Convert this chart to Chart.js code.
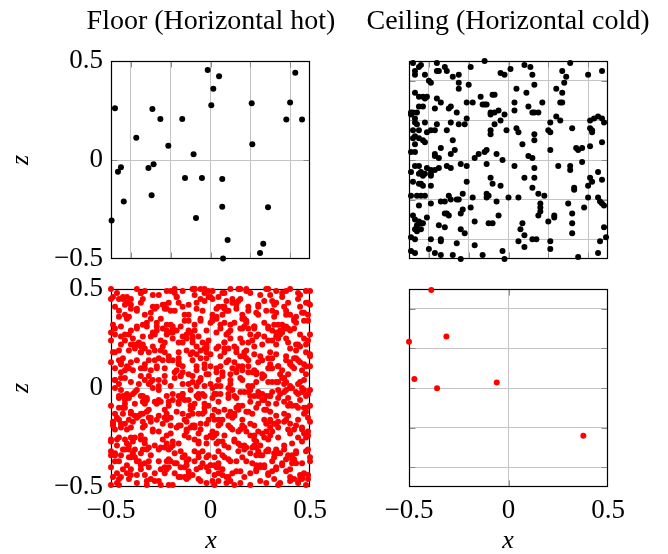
<!DOCTYPE html>
<html>
<head>
<meta charset="utf-8">
<script src="https://cdn.jsdelivr.net/npm/chart.js@4.4.1/dist/chart.umd.min.js"></script>
<style>
  body { margin: 0; background: #fff; }
  #fig { position: relative; width: 668px; height: 554px; font-family: "Liberation Serif", serif; color: #000; }
  #fig canvas { position: absolute; left: 0; top: 0; }
  .lbl { position: absolute; white-space: nowrap; font-size: 26px; line-height: 1; }
  .ttl { transform: translateX(-50%); font-size: 28px; }
  .ax { font-style: italic; transform: translate(-50%, -50%); }
  .ax.rot { transform: translate(-50%, -50%) rotate(-90deg); }
</style>
</head>
<body>
<div id="fig">
  <canvas id="c0" width="668" height="554"></canvas>
  <canvas id="c1" width="668" height="554"></canvas>
  <canvas id="c2" width="668" height="554"></canvas>
  <canvas id="c3" width="668" height="554"></canvas>
  <div class="lbl ttl" style="left:211px; top:6px;">Floor (Horizontal hot)</div>
  <div class="lbl ttl" style="left:508px; top:6px;">Ceiling (Horizontal cold)</div>
  <div class="lbl ax rot" style="left:20px; top:160px;">z</div>
  <div class="lbl ax rot" style="left:20px; top:388px;">z</div>
  <div class="lbl ax" style="left:211px; top:540px;">x</div>
  <div class="lbl ax" style="left:508px; top:540px;">x</div>
</div>
<script>
// --- DATA ---
// tick values shared by every panel; only some are labelled
const tickVals = [-0.5, -0.4, -0.2, 0, 0.2, 0.4, 0.5];
const labelVals = [-0.5, 0, 0.5];
const fineGrid = [-0.4, -0.2, 0, 0.2, 0.4];
const zeroGrid = [0];

// floor, black markers (x, z)
const floorBlackX = [-0.014, 0.043, 0.426, 0.014, -0.480, -0.292, 0.004, 0.207, 0.400, -0.252, -0.142, 0.381,
  0.460, -0.373, -0.212, 0.210, -0.085, -0.450, -0.465, -0.286, -0.312, -0.128, -0.043, 0.059, -0.296, -0.436,
  0.059, 0.289, -0.073, -0.497, 0.086, 0.265, 0.249, 0.063];
const floorBlackZ = [0.455, 0.423, 0.441, 0.360, 0.261, 0.258, 0.276, 0.286, 0.290, 0.207, 0.207, 0.205,
  0.205, 0.113, 0.072, 0.079, 0.029, -0.037, -0.059, -0.022, -0.040, -0.091, -0.091, -0.096, -0.178, -0.209,
  -0.236, -0.239, -0.293, -0.306, -0.404, -0.423, -0.470, -0.498];

// ceiling, red markers (x, z)
const ceilingRedX = [-0.388, -0.312, -0.500, -0.473, -0.359, -0.059, 0.376];
const ceilingRedZ = [0.495, 0.260, 0.234, 0.046, -0.001, 0.028, -0.241];

// ceiling, black markers: x,z pairs in hundredths
const ceilingBlack = [
  -48,49, -44,48, -45,47, -47,45, -47,43, -42,43, -36,49, -36,45, -35,45, -32,47, -31,45, -28,42, -25,43, -19,47,
  -12,50, -4,44, -2,43, 1,46, 8,48, 11,47, 12,43, 27,45, 29,42, 31,49, 40,43, 47,45, -40,40, -39,39,
  -25,39, -25,36, -20,38, -47,34, -45,32, -43,32, -41,32, -42,31, -36,31, -34,29, -37,26, -30,26, -29,27, -26,24,
  -21,29, -18,29, -14,32, -12,28, -13,28, -11,28, -8,33, -7,33, -9,24, -7,24, -5,25, 4,36, 3,29, 9,34, 13,38,
  10,27, 12,24, 13,24, 15,24, 17,29, 24,36, 27,34, 26,29, 27,29, 28,39, 24,22, 26,20, 21,19, -49,24, -48,24,
  -49,23, -45,27, -46,24, -43,27, 3,25, -2,23, -4,20, -9,23,
  -47,21, -47,19, -46,18, -42,19, -45,15, -48,15, -48,11, -47,12, -45,11, -43,10, -42,9, -47,8, -47,4, -49,4,
  -41,14, -39,15, -37,15, -36,18, -31,15, -29,19, -25,18, -22,18, -21,21, -28,10, -27,5, -29,3, -34,6, -37,3,
  -37,2, -35,1, -9,15, -9,13, -7,18, -1,15, 4,16, 5,14, 7,8, 13,13, 13,10, 10,2, 12,1, 20,15, 21,14, 21,5,
  32,16, 34,6, 37,6, 35,5, 37,-1, 41,20, 43,21, 45,22, 47,21, 48,19, 41,16, 42,15, 42,14, 47,9, 41,7, -15,3,
  -17,1, -11,5, -12,4, -6,3, -3,0,
  -47,-3, -45,-3, -45,-7, -44,-6, -42,-7, -43,-8, -41,-4, -39,-5, -39,-7, -39,-8, -37,-5, -35,-4, -44,-12,
  -43,-13, -45,-12, -48,-11, -49,-6, -39,-13, -31,-3, -29,-4, -24,-2, -21,-3, -21,-11, -11,-2, -9,-9, -8,-12,
  -4,-13, 3,-3, 8,-9, 13,-4, 13,-9, 12,-14, 25,-3, 31,-3, 31,-5, 41,-9, 42,-11, 40,-13, 45,-6, 47,-10, 33,-14,
  -49,-18, -46,-18, -44,-18, -42,-18,
  -45,-23, -39,-22, -34,-21, -32,-21, -30,-18, -29,-20, -26,-20, -25,-20, -23,-17, -18,-19, -11,-17, -10,-18,
  -11,-19, -6,-21, 0,-19, 5,-19, 15,-17, 18,-18, 16,-22, 16,-24, 16,-26, 15,-28, 20,-31, 23,-28, 23,-29, 30,-22,
  32,-27, 32,-32, 33,-15, 38,-24, 40,-19, 45,-19, 46,-21, 47,-22, 48,-23, -19,-24, -24,-27, -23,-25, -31,-27,
  -30,-28, -32,-27, -48,-28, -47,-30, -45,-31, -44,-32, -43,-32, -47,-35, -46,-36, -44,-35, -46,-33, -41,-29,
  -35,-33, -32,-34, -24,-35, -22,-37, -17,-31, -10,-32, -8,-32, -5,-28, 7,-32, 6,-35, 8,-38, 32,-37, 48,-34,
  49,-39, 46,-41,
  -49,-39, -47,-40, -39,-40, -34,-40, -34,-41, -26,-42, -17,-43, 5,-41, 8,-44, 12,-40, 14,-40, 21,-41, -49,-46,
  -47,-47, -40,-45, -37,-47, -34,-48, -28,-48, -24,-50, -13,-48, -3,-46, -2,-50, 21,-45, 35,-49, 45,-47
];

// floor, red markers: x,z pairs in hundredths (one strip per line, top to bottom, then a second sweep)
const floorRed = [
  -50,50, -49,46, -47,48, -44,46, -42,46, -37,50, -35,48, -33,49, -29,47, -26,47, -22,49, -20,49, -18,48, -18,50,
  -17,46, -14,49, -9,50, -8,50, -8,47, -5,50, -3,50, -1,49, -1,46, 0,46, 1,49, 4,46, 6,48, 10,50, 14,50, 15,50,
  18,49, 20,48, 25,47, 28,50, 30,47, 33,49, 36,48, 38,49, 40,50, 45,47, 48,49, 50,49,
  -48,41, -46,45, -43,42, -42,43, -40,42, -40,45, -35,43, -34,45, -29,41, -24,42, -23,42, -21,43, -16,43, -14,41,
  -11,42, -7,43, -5,45, -3,44, 1,45, 4,41, 6,41, 7,41, 8,44, 11,43, 13,42, 13,43, 14,44, 15,45, 19,41, 24,42,
  27,44, 31,44, 32,42, 33,43, 37,41, 39,43, 44,45, 45,41, 48,43, 50,42,
  -46,36, -43,37, -42,36, -41,36, -40,40, -37,40, -33,37, -30,38, -28,40, -23,40, -22,40, -20,39, -18,39, -13,37,
  -11,37, -7,40, -4,39, 1,37, 3,40, 3,36, 6,37, 7,40, 9,39, 13,40, 16,37, 19,39, 23,38, 24,37, 28,39, 31,39,
  33,38, 38,37, 38,39, 40,37, 43,36, 46,38, 47,38, 49,37,
  -49,32, -45,31, -42,35, -37,31, -34,32, -32,33, -30,35, -27,31, -25,35, -20,32, -19,31, -15,31, -11,34, -8,32,
  -5,35, 0,33, 1,34, 3,35, 5,32, 7,33, 10,32, 12,33, 16,35, 17,35, 18,33, 18,34, 22,31, 27,33, 29,31, 32,32,
  34,32, 36,32, 37,31, 42,34, 43,33, 47,34,
  -50,28, -48,30, -45,26, -43,27, -40,29, -37,30, -34,26, -30,26, -28,27, -27,29, -24,30, -22,27, -22,29, -20,28,
  -19,30, -17,29, -14,26, -12,27, -11,29, -9,26, -8,29, -6,26, -2,29, 3,28, 5,30, 8,27, 9,28, 10,29, 15,30, 16,30,
  19,30, 20,27, 22,30, 23,26, 24,27, 27,26, 29,30, 31,29, 33,26, 33,28, 35,27, 36,28, 37,30, 38,30, 39,30, 40,29,
  42,30, 45,27, 50,27,
  -50,24, -45,22, -43,24, -40,22, -39,22, -39,25, -37,22, -35,21, -34,22, -29,21, -25,24, -23,23, -19,25, -16,23,
  -14,23, -12,25, -9,23, -9,25, -7,21, -4,23, -2,21, -1,24, 4,21, 7,23, 10,25, 15,25, 16,23, 19,23, 21,24, 26,22,
  31,24, 33,22, 34,25, 38,25, 39,23, 43,22, 44,22, 47,25, 48,22, 49,24,
  -49,18, -46,19, -41,19, -38,20, -35,18, -33,20, -28,19, -25,19, -23,18, -21,16, -16,18, -12,19, -10,17, -9,18,
  -7,17, -5,19, -3,20, -2,18, 0,17, 5,16, 7,18, 7,20, 9,20, 13,20, 15,16, 17,18, 17,16, 18,19, 22,17, 25,16,
  30,18, 33,17, 38,16, 40,20, 43,19, 48,18, 50,16,
  -50,13, -46,14, -45,13, -45,12, -42,11, -40,13, -37,14, -33,12, -31,14, -28,14, -27,11, -24,14, -21,14, -19,14,
  -16,12, -16,15, -14,11, -9,14, -5,15, -3,12, -2,15, 0,11, 5,11, 8,13, 9,14, 12,13, 14,11, 16,11, 18,15, 19,14,
  24,13, 29,15, 30,12, 31,15, 34,11, 38,14, 40,12, 40,13, 41,11, 43,15, 44,14, 45,13, 47,12, 48,11, 50,11,
  -48,10, -45,8, -41,10, -39,9, -35,6, -33,10, -31,6, -30,9, -27,10, -23,10, -18,8, -17,9, -15,6, -14,8, -11,7,
  -9,6, -7,9, -3,10, -2,7, 3,8, 3,10, 6,6, 11,10, 13,8, 13,9, 16,9, 21,8, 22,9, 23,7, 23,8, 26,7, 27,6, 29,10,
  30,10, 31,10, 35,7, 36,9, 39,7, 42,10, 46,9, 48,7,
  -48,4, -46,2, -45,5, -43,5, -40,3, -36,2, -33,4, -31,2, -29,4, -26,4, -26,1, -23,3, -20,1, -18,5, -14,2, -11,2,
  -9,3, -6,3, -5,5, -5,4, -3,1, 0,2, 3,1, 4,4, 5,1, 10,4, 10,2, 15,5, 16,4, 19,1, 21,1, 23,3, 26,5, 31,3, 33,3,
  34,3, 36,5, 37,5, 38,3, 40,1, 44,2, 47,4,
  -48,0, -46,-4, -44,-4, -42,-3, -41,-4, -39,-3, -37,-1, -35,-4, -34,-4, -29,0, -26,-1, -22,-4, -19,-3, -16,-4,
  -14,-3, -10,-1, -6,-3, -4,-3, -3,-4, 1,0, 2,-3, 3,-3, 5,-3, 9,0, 11,-1, 12,-4, 15,-2, 17,-2, 20,-1, 20,-4,
  22,-4, 24,-4, 26,-3, 28,-4, 30,-4, 31,-2, 34,-1, 35,-3, 37,-2, 38,-1, 40,0, 43,-2, 44,-3, 46,-2, 47,-1, 48,-4,
  49,-3, 50,-1,
  -50,-9, -46,-5, -43,-8, -43,-6, -41,-5, -38,-8, -34,-7, -33,-5, -33,-8, -32,-6, -27,-8, -26,-6, -25,-7, -21,-7,
  -19,-6, -16,-8, -16,-7, -14,-5, -13,-6, -11,-6, -10,-9, -8,-8, -6,-5, -3,-8, -1,-9, 1,-5, 4,-7, 9,-5, 13,-5,
  14,-9, 16,-9, 20,-7, 24,-8, 26,-6, 27,-6, 29,-8, 33,-8, 37,-7, 39,-9, 39,-5, 40,-8, 41,-9, 43,-9, 45,-6, 50,-9,
  -48,-13, -46,-10, -44,-10, -44,-13, -43,-10, -40,-12, -38,-14, -36,-14, -35,-13, -32,-12, -31,-11, -26,-14,
  -23,-11, -22,-13, -17,-12, -14,-13, -11,-14, -10,-11, -9,-13, -6,-13, -4,-13, -3,-10, 1,-14, 2,-11, 4,-12,
  7,-11, 9,-14, 10,-12, 12,-14, 13,-10, 14,-11, 18,-12, 19,-12, 23,-10, 28,-11, 30,-12, 33,-14, 37,-13, 39,-14,
  44,-10, 47,-10, 47,-13, 48,-12,
  -49,-17, -49,-18, -49,-19, -47,-15, -46,-16, -45,-18, -43,-18, -41,-16, -39,-17, -37,-15, -34,-17, -33,-19,
  -31,-15, -30,-17, -27,-16, -24,-18, -23,-15, -22,-16, -20,-15, -20,-19, -15,-19, -13,-16, -12,-17, -9,-19,
  -8,-19, -5,-18, -2,-18, -1,-16, 2,-16, 4,-19, 5,-18, 6,-16, 9,-19, 11,-15, 16,-16, 16,-19, 20,-18, 22,-19,
  27,-16, 28,-18, 30,-17, 30,-16, 32,-18, 33,-18, 37,-17, 38,-16, 40,-18, 44,-16, 49,-15, 50,-17,
  -48,-21, -45,-20, -42,-21, -40,-20, -35,-24, -34,-20, -29,-21, -26,-22, -22,-24, -17,-20, -13,-24, -12,-21,
  -10,-20, -8,-20, -6,-23, -5,-21, 0,-24, 1,-22, 3,-23, 7,-24, 11,-21, 14,-22, 15,-21, 18,-22, 20,-24, 22,-24,
  24,-22, 26,-23, 28,-22, 30,-20, 31,-22, 34,-20, 39,-21, 42,-21, 46,-21, 46,-20, 47,-23, 49,-22,
  -50,-26, -50,-27, -47,-29, -46,-25, -43,-26, -42,-28, -41,-29, -40,-25, -38,-25, -35,-26, -33,-26, -33,-28,
  -28,-29, -24,-26, -22,-28, -19,-27, -19,-29, -16,-28, -11,-25, -8,-26, -6,-28, -2,-25, -2,-28, 1,-25, 3,-28,
  4,-27, 7,-29, 12,-26, 12,-27, 14,-28, 15,-29, 17,-29, 22,-29, 22,-26, 25,-29, 27,-25, 29,-26, 34,-25, 37,-29,
  41,-28, 44,-25, 46,-27, 48,-25,
  -50,-32, -50,-34, -48,-34, -48,-33, -45,-34, -44,-31, -43,-31, -41,-31, -39,-33, -38,-31, -35,-33, -34,-31,
  -32,-31, -30,-34, -26,-31, -23,-30, -21,-31, -20,-30, -18,-33, -15,-32, -13,-34, -8,-32, -4,-32, -1,-34, 4,-32,
  6,-34, 9,-30, 14,-32, 18,-30, 20,-33, 21,-30, 23,-30, 24,-32, 25,-34, 26,-34, 28,-32, 29,-32, 32,-33, 33,-31,
  34,-33, 37,-31, 39,-34, 41,-34, 43,-32, 43,-33, 48,-32,
  -46,-37, -41,-35, -40,-35, -38,-35, -37,-37, -35,-39, -33,-38, -31,-37, -26,-37, -22,-37, -21,-36, -20,-37,
  -17,-38, -14,-35, -12,-37, -12,-39, -8,-37, -6,-35, -4,-38, -2,-35, 0,-39, 2,-39, 2,-35, 4,-38, 7,-35, 10,-37,
  13,-37, 16,-35, 18,-37, 21,-38, 23,-39, 25,-39, 27,-39, 31,-37, 32,-35, 36,-39, 36,-38, 38,-36, 41,-38, 41,-36,
  42,-37, 43,-38, 46,-38, 50,-37, 50,-35,
  -47,-43, -44,-41, -42,-43, -40,-41, -37,-44, -35,-41, -33,-44, -31,-40, -28,-43, -23,-43, -23,-40, -22,-41,
  -21,-40, -18,-43, -15,-40, -13,-40, -11,-44, -11,-42, -9,-44, -7,-41, -5,-40, -2,-40, -1,-42, 2,-44, 3,-40,
  4,-43, 6,-44, 6,-41, 11,-43, 13,-42, 15,-42, 20,-43, 23,-42, 25,-40, 27,-40, 29,-44, 29,-43, 31,-42, 33,-41,
  38,-42, 40,-41, 45,-44, 47,-43, 49,-44,
  -50,-49, -49,-45, -47,-48, -46,-49, -46,-46, -41,-46, -37,-48, -32,-47, -30,-46, -28,-47, -26,-47, -25,-49,
  -21,-49, -16,-45, -15,-45, -13,-45, -11,-45, -6,-46, -2,-48, 1,-47, 2,-49, 4,-47, 8,-45, 8,-48, 9,-45, 12,-49,
  15,-48, 20,-49, 25,-47, 28,-48, 32,-46, 34,-49, 35,-48, 40,-45, 40,-47, 44,-48, 45,-46, 46,-46, 46,-45, 49,-46,
  // second sweep
  -50,45, -44,45, -35,48, -27,41, -17,46, -8,50, -3,48, 7,48, 11,45, 18,50, 24,41, 29,50, 36,46, 44,48, 49,43,
  -46,39, -37,39, -32,31, -27,33, -22,32, -13,34, -5,34, 1,35, 8,39, 17,31, 22,31, 32,36, 38,31, 42,35, 49,34,
  -48,27, -41,27, -36,23, -29,28, -24,21, -19,28, -10,28, -2,22, 7,23, 12,21, 22,21, 29,24, 35,29, 45,21,
  -48,18, -44,15, -35,18, -31,18, -26,15, -16,13, -7,11, -2,20, 3,20, 13,18, 19,11, 26,14, 34,11, 42,15, 50,17,
  -48,4, -43,9, -35,10, -30,3, -23,6, -15,6, -7,1, -1,7, 6,8, 10,7, 19,8, 29,3, 37,2, 45,3,
  -45,-1, -38,-2, -32,-5, -28,-7, -21,-9, -14,-3, -7,-4, 2,-3, 9,-3, 19,-2, 24,-2, 30,-4, 34,-5, 41,0, 46,0,
  -44,-10, -40,-13, -34,-13, -30,-15, -23,-15, -16,-19, -9,-10, -3,-12, 4,-16, 12,-13, 21,-13, 27,-11, 34,-17,
  43,-19, 48,-10,
  -47,-26, -39,-27, -29,-22, -20,-23, -12,-22, -6,-27, 2,-24, 6,-27, 10,-20, 17,-20, 23,-27, 30,-24, 40,-23, 49,-24,
  -48,-37, -42,-39, -36,-37, -31,-30, -25,-30, -18,-38, -11,-36, -6,-33, 0,-39, 9,-36, 17,-31, 23,-34, 29,-31,
  35,-33, 42,-36, 49,-31,
  -50,-40, -45,-45, -40,-44, -32,-49, -25,-41, -19,-49, -12,-46, -5,-47, 4,-40, 10,-47, 17,-45, 23,-41, 33,-40,
  42,-46, 48,-49
];

// --- HELPERS ---
const FONT = '"Liberation Serif", serif';
const GRID = '#c4c4c4';
const TICK = '#8c8c8c';
const Y_W = 100, X_H = 50;

const fromXZ = (xs, zs) => xs.map((x, i) => ({ x, y: zs[i] }));
const fromPairs = arr => {
  const out = [];
  for (let i = 0; i < arr.length; i += 2) out.push({ x: arr[i] / 100, y: arr[i + 1] / 100 });
  return out;
};
const fmt = v => (v < 0 ? '\u2212' + Math.abs(v) : String(v));

// frame round the plot area plus short inward tick marks at grid lines
const framePlugin = {
  id: 'frame',
  beforeDatasetsDraw(chart, args, opts) {
    const { ctx, chartArea: a, scales } = chart;
    const L = Math.round(a.left) + 0.5, R = Math.round(a.right) - 0.5;
    const T = Math.round(a.top) + 0.5, B = Math.round(a.bottom) - 0.5;
    ctx.save();
    ctx.strokeStyle = TICK;
    ctx.lineWidth = 1;
    ctx.beginPath();
    opts.xGrid.forEach(v => {
      const p = Math.round(scales.x.getPixelForValue(v)) + 0.5;
      ctx.moveTo(p, T); ctx.lineTo(p, T + 6);
      ctx.moveTo(p, B); ctx.lineTo(p, B - 6);
    });
    opts.zGrid.forEach(v => {
      const p = Math.round(scales.y.getPixelForValue(v)) + 0.5;
      ctx.moveTo(L, p); ctx.lineTo(L + 6, p);
      ctx.moveTo(R, p); ctx.lineTo(R - 6, p);
    });
    ctx.stroke();
    ctx.strokeStyle = '#000';
    ctx.lineWidth = 1.2;
    ctx.strokeRect(L, T, R - L, B - T);
    ctx.restore();
  }
};

function axis(isX, gridAt, showLabels) {
  return {
    type: 'linear',
    min: -0.5,
    max: 0.5,
    afterBuildTicks: s => { s.ticks = tickVals.map(v => ({ value: v })); },
    afterFit: s => { if (isX) s.height = X_H; else s.width = Y_W; },
    grid: {
      drawTicks: false,
      lineWidth: 1,
      color: c => (c.tick && gridAt.includes(c.tick.value) ? GRID : 'rgba(0,0,0,0)')
    },
    border: { display: false },
    ticks: {
      display: showLabels,
      autoSkip: false,
      maxRotation: 0,
      padding: 8,
      color: '#000',
      font: { family: FONT, size: 27 },
      callback: v => (labelVals.includes(v) ? fmt(v) : '')
    }
  };
}

// plot areas [left, top, right, bottom] in page pixels
const panels = [
  { id: 'c0', box: [111, 61, 310, 259], pts: fromXZ(floorBlackX, floorBlackZ), color: '#000000', xGrid: fineGrid, zGrid: zeroGrid, xLab: false, zLab: true },
  { id: 'c1', box: [409, 61, 608, 259], pts: fromPairs(ceilingBlack), color: '#000000', xGrid: fineGrid, zGrid: fineGrid, xLab: false, zLab: false },
  { id: 'c2', box: [111, 289, 310, 487], pts: fromPairs(floorRed), color: '#ff0000', xGrid: zeroGrid, zGrid: zeroGrid, xLab: true, zLab: true },
  { id: 'c3', box: [409, 289, 608, 487], pts: fromXZ(ceilingRedX, ceilingRedZ), color: '#ff0000', xGrid: zeroGrid, zGrid: fineGrid, xLab: true, zLab: false }
];

panels.forEach(p => {
  const [l, t, r, b] = p.box;
  new Chart(document.getElementById(p.id), {
    type: 'scatter',
    data: {
      datasets: [{
        data: p.pts,
        backgroundColor: p.color,
        borderWidth: 0,
        pointRadius: 3,
        pointHoverRadius: 3,
        clip: false
      }]
    },
    options: {
      responsive: false,
      animation: false,
      events: [],
      layout: { padding: { left: l - Y_W, top: t, right: 668 - r, bottom: 554 - b - X_H } },
      plugins: {
        legend: { display: false },
        tooltip: { enabled: false },
        frame: { xGrid: p.xGrid, zGrid: p.zGrid }
      },
      scales: {
        x: axis(true, p.xGrid, p.xLab),
        y: axis(false, p.zGrid, p.zLab)
      }
    },
    plugins: [framePlugin]
  });
});
</script>
</body>
</html>
